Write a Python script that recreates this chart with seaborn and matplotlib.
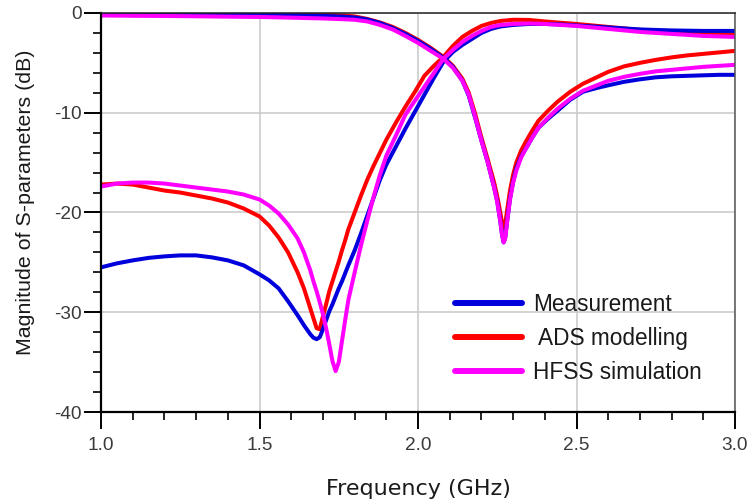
import matplotlib
matplotlib.use("Agg")
import matplotlib.pyplot as plt
from matplotlib.lines import Line2D
from matplotlib.ticker import MultipleLocator
import seaborn as sns

# Frequency points (GHz) for the reflection curves
freq_s11 = [1.00, 1.05, 1.10, 1.15, 1.20, 1.25, 1.30, 1.35, 1.40, 1.45,
            1.50, 1.53, 1.56, 1.59, 1.62, 1.64, 1.66, 1.67, 1.68, 1.69,
            1.70, 1.71, 1.72, 1.73, 1.74, 1.75, 1.76, 1.77, 1.78, 1.80,
            1.82, 1.84, 1.86, 1.88, 1.90, 1.93, 1.96, 1.99, 2.02, 2.05,
            2.08, 2.11, 2.14, 2.17, 2.20, 2.23, 2.26, 2.30, 2.35, 2.40,
            2.45, 2.50, 2.60, 2.70, 2.80, 2.90, 3.00]

# |S11| (dB)
s11_meas = [-25.5, -25.1, -24.8, -24.55, -24.4, -24.3, -24.3, -24.5, -24.8, -25.3,
            -26.2, -26.8, -27.6, -28.9, -30.3, -31.3, -32.2, -32.55, -32.7, -32.5,
            -31.7, -30.8, -29.9, -29.2, -28.4, -27.6, -26.9, -26.1, -25.3, -23.8,
            -22.1, -20.3, -18.5, -16.7, -15.2, -13.4, -11.6, -9.9, -8.2, -6.5,
            -4.9, -3.9, -3.2, -2.6, -2.0, -1.6, -1.35, -1.2, -1.1, -1.1,
            -1.15, -1.25, -1.45, -1.65, -1.75, -1.8, -1.8]
s11_ads = [-17.2, -17.1, -17.2, -17.5, -17.8, -18.0, -18.3, -18.6, -19.0, -19.6,
           -20.4, -21.3, -22.5, -24.0, -26.0, -27.6, -29.6, -30.6, -31.6, -31.7,
           -30.4, -29.2, -27.9, -26.9, -25.9, -24.9, -23.8, -22.8, -21.7, -20.0,
           -18.3, -16.7, -15.3, -14.0, -12.7, -11.0, -9.4, -7.9, -6.3, -5.3,
           -4.4, -3.3, -2.4, -1.8, -1.3, -1.0, -0.8, -0.68, -0.7, -0.85,
           -0.98, -1.1, -1.4, -1.7, -1.9, -2.05, -2.2]
s11_hfss = [-17.4, -17.1, -17.0, -17.0, -17.1, -17.3, -17.5, -17.7, -17.9, -18.2,
            -18.7, -19.3, -20.1, -21.2, -22.6, -24.0, -25.8, -26.9, -27.9, -29.0,
            -30.2, -31.6, -33.2, -34.9, -35.9, -35.0, -32.9, -30.8, -28.8, -26.0,
            -23.3, -20.8, -18.4, -16.2, -14.3, -12.3, -10.2, -8.8, -7.4, -6.0,
            -4.6, -3.7, -2.9, -2.3, -1.8, -1.4, -1.2, -1.1, -1.05, -1.1,
            -1.2, -1.3, -1.6, -1.9, -2.1, -2.3, -2.4]

# Frequency points (GHz) for the transmission curves
freq_s21 = [1.00, 1.10, 1.20, 1.30, 1.40, 1.50, 1.60, 1.70, 1.76, 1.80,
            1.84, 1.88, 1.92, 1.96, 2.00, 2.04, 2.08, 2.11, 2.14, 2.16,
            2.18, 2.20, 2.22, 2.24, 2.25, 2.26, 2.265, 2.27, 2.275, 2.28,
            2.29, 2.30, 2.31, 2.325, 2.34, 2.36, 2.38, 2.41, 2.44, 2.48,
            2.52, 2.56, 2.60, 2.65, 2.70, 2.75, 2.80, 2.85, 2.90, 2.95,
            3.00]

# |S21| (dB)
s21_meas = [-0.1, -0.1, -0.12, -0.13, -0.15, -0.18, -0.22, -0.29, -0.36, -0.45,
            -0.65, -1.0, -1.5, -2.1, -2.8, -3.6, -4.5, -5.4, -6.8, -8.3,
            -10.5, -12.8, -15.0, -17.5, -18.9, -21.0, -22.2, -23.0, -22.5, -21.1,
            -18.6, -16.9, -15.6, -14.4, -13.6, -12.5, -11.5, -10.6, -9.8, -8.7,
            -7.9, -7.55, -7.25, -6.9, -6.65, -6.45, -6.35, -6.3, -6.25, -6.2,
            -6.2]
s21_ads = [-0.05, -0.05, -0.05, -0.06, -0.07, -0.08, -0.11, -0.16, -0.25, -0.35,
           -0.6, -0.95, -1.4, -2.0, -2.7, -3.5, -4.4, -5.3, -6.6, -8.0,
           -10.1, -12.5, -14.7, -17.0, -18.4, -20.1, -21.0, -21.6, -21.2, -20.0,
           -17.8, -16.2, -15.0, -13.8, -12.9, -11.8, -10.8, -9.8, -8.9, -7.9,
           -7.1, -6.5, -5.9, -5.35, -5.0, -4.7, -4.45, -4.25, -4.1, -3.95,
           -3.8]
s21_hfss = [-0.25, -0.28, -0.3, -0.33, -0.37, -0.4, -0.47, -0.55, -0.62, -0.68,
            -0.85, -1.2, -1.65, -2.3, -3.0, -3.8, -4.6, -5.5, -6.8, -8.2,
            -10.4, -12.8, -15.0, -17.5, -19.0, -21.0, -22.3, -23.0, -22.6, -21.2,
            -18.7, -17.0, -15.8, -14.5, -13.6, -12.5, -11.5, -10.5, -9.6, -8.6,
            -7.8, -7.3, -6.8, -6.4, -6.1, -5.85, -5.7, -5.55, -5.4, -5.3,
            -5.2]

series_names = ["Measurement", " ADS modelling", "HFSS simulation"]
series_colors = ["#0000dd", "#ff0000", "#ff00ff"]

sns.set_theme(style="white")
plt.rcParams["font.family"] = ["Liberation Sans", "DejaVu Sans"]
plt.rcParams["axes.unicode_minus"] = False

fig = plt.figure(figsize=(7.49, 5.03), dpi=100)
ax = fig.add_axes([0.1349, 0.1809, 0.8465, 0.7933])

curves = {
    "Measurement": (s11_meas, s21_meas),
    " ADS modelling": (s11_ads, s21_ads),
    "HFSS simulation": (s11_hfss, s21_hfss),
}
color_of = dict(zip(series_names, series_colors))

# red underneath, then blue, magenta on top
for name in [" ADS modelling", "Measurement", "HFSS simulation"]:
    s11_vals, s21_vals = curves[name]
    for f, vals in ((freq_s11, s11_vals), (freq_s21, s21_vals)):
        sns.lineplot(x=f, y=vals, ax=ax, color=color_of[name], lw=2.9,
                     estimator=None, sort=False, legend=False)

ax.set_xlim(1.0, 3.0)
ax.set_ylim(-40, 0)
ax.xaxis.set_major_locator(MultipleLocator(0.5))
ax.xaxis.set_minor_locator(MultipleLocator(0.1))
ax.yaxis.set_major_locator(MultipleLocator(10))
ax.yaxis.set_minor_locator(MultipleLocator(2))

ax.set_axisbelow(True)
ax.grid(True, which="major", color="#c8c8c8", lw=1.1)

ax.tick_params(which="both", direction="out", bottom=True, left=True,
               top=False, right=False, color="black")
ax.tick_params(which="major", length=12.2, width=1.4, labelsize=13.7,
               labelcolor="#3a3a3a")
ax.tick_params(axis="x", which="major", pad=6)
ax.tick_params(axis="y", which="major", pad=1.5)
ax.tick_params(which="minor", length=5.8, width=1.2)

for side in ["left", "bottom"]:
    ax.spines[side].set_color("black")
    ax.spines[side].set_linewidth(1.6)
ax.spines["top"].set_color("#222222")
ax.spines["top"].set_linewidth(1.1)
ax.spines["right"].set_color("#555555")
ax.spines["right"].set_linewidth(1.1)

ax.set_xlabel("Frequency (GHz)", fontsize=16.0, family="DejaVu Sans",
              color="#1a1a1a", labelpad=17.5)
ax.set_ylabel("Magnitude of S-parameters (dB)", fontsize=15.4,
              color="#1a1a1a")
ax.yaxis.set_label_coords(-0.104, 0.525)

handles = [Line2D([], [], color=c, lw=4.3) for c in series_colors]
ax.legend(handles, series_names, loc="upper left",
          bbox_to_anchor=(0.5584, 0.298), frameon=False,
          prop={"family": "Liberation Sans", "size": 16.3},
          labelcolor="#1a1a1a", handlelength=2.96, handletextpad=0.49,
          labelspacing=0.49, borderpad=0, borderaxespad=0)

fig.savefig("out.png", dpi=100)
